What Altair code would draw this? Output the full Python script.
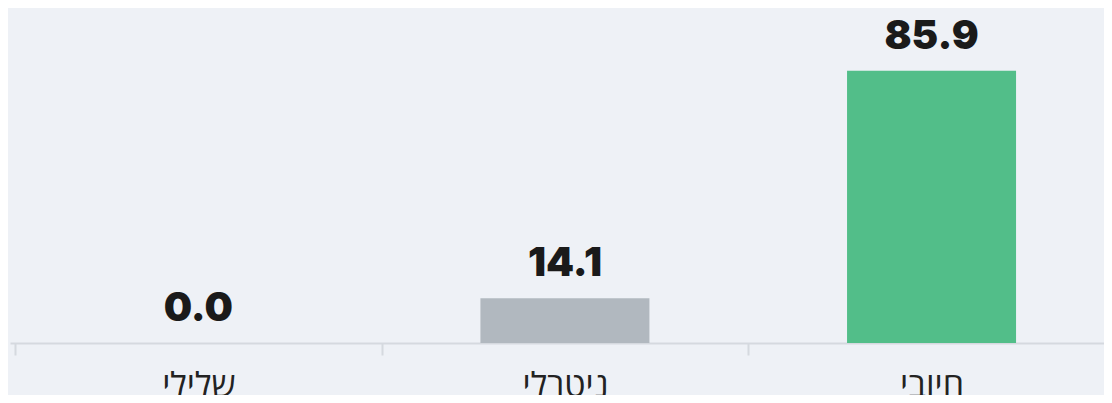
import altair as alt
import pandas as pd

categories = ["שלילי", "ניטרלי", "חיובי"]
values = [0.0, 14.1, 85.9]
colors = ["#e8555a", "#b1b8bf", "#52be89"]

# band centres in category units (one unit per category)
positions = [i + 0.5 for i in range(len(categories))]

df = pd.DataFrame({"cat": categories, "pos": positions, "val": values, "color": colors})

STEP = 370          # pixels per category band
VIEW_W = 1094       # visible plot width (the last band runs off the right edge)
x_max = VIEW_W / STEP

names_js = "[" + ",".join("'" + c + "'" for c in categories) + "]"
tick_vals = []
for i in range(len(categories)):
    tick_vals += [i, i + 0.5]

x = alt.X(
    "pos:Q",
    scale=alt.Scale(domain=[0, x_max], nice=False, zero=False),
    axis=alt.Axis(
        title=None,
        values=tick_vals,
        labelExpr=f"datum.value % 1 == 0 ? '' : {names_js}[floor(datum.value)]",
        labelAngle=0,
        labelFontSize=34,
        labelFont="Open Sans",
        labelColor="#222222",
        labelPadding=14,
        labelOverlap=False,
        labelFlush=False,
        domainColor="#d5d9df",
        domainWidth=2,
        tickColor="#d5d9df",
        tickWidth=2,
        tickSize=12,
        tickOpacity={"condition": {"test": "datum.value % 1 != 0", "value": 0}, "value": 1},
        grid=False,
    ),
)
y = alt.Y("val:Q", scale=alt.Scale(domain=[0, 100]), axis=None)

base = alt.Chart(df).encode(x=x, y=y)

bars = base.mark_bar(width=169).encode(color=alt.Color("color:N", scale=None))
labels = base.mark_text(
    dy=-22, baseline="alphabetic", fontSize=40, fontWeight=900, font="Inter", color="#1a1a1a"
).encode(text=alt.Text("val:Q", format=".1f"))

chart = (
    (bars + labels)
    .properties(
        width=VIEW_W,
        height=317,
        background="#eef1f6",
        padding={"left": 2, "top": 18, "right": 0, "bottom": 52},
        autosize=alt.AutoSizeParams(type="none"),
    )
    .configure_view(stroke=None)
)

chart.save("out.html", embed_options={"renderer": "svg", "actions": False})
